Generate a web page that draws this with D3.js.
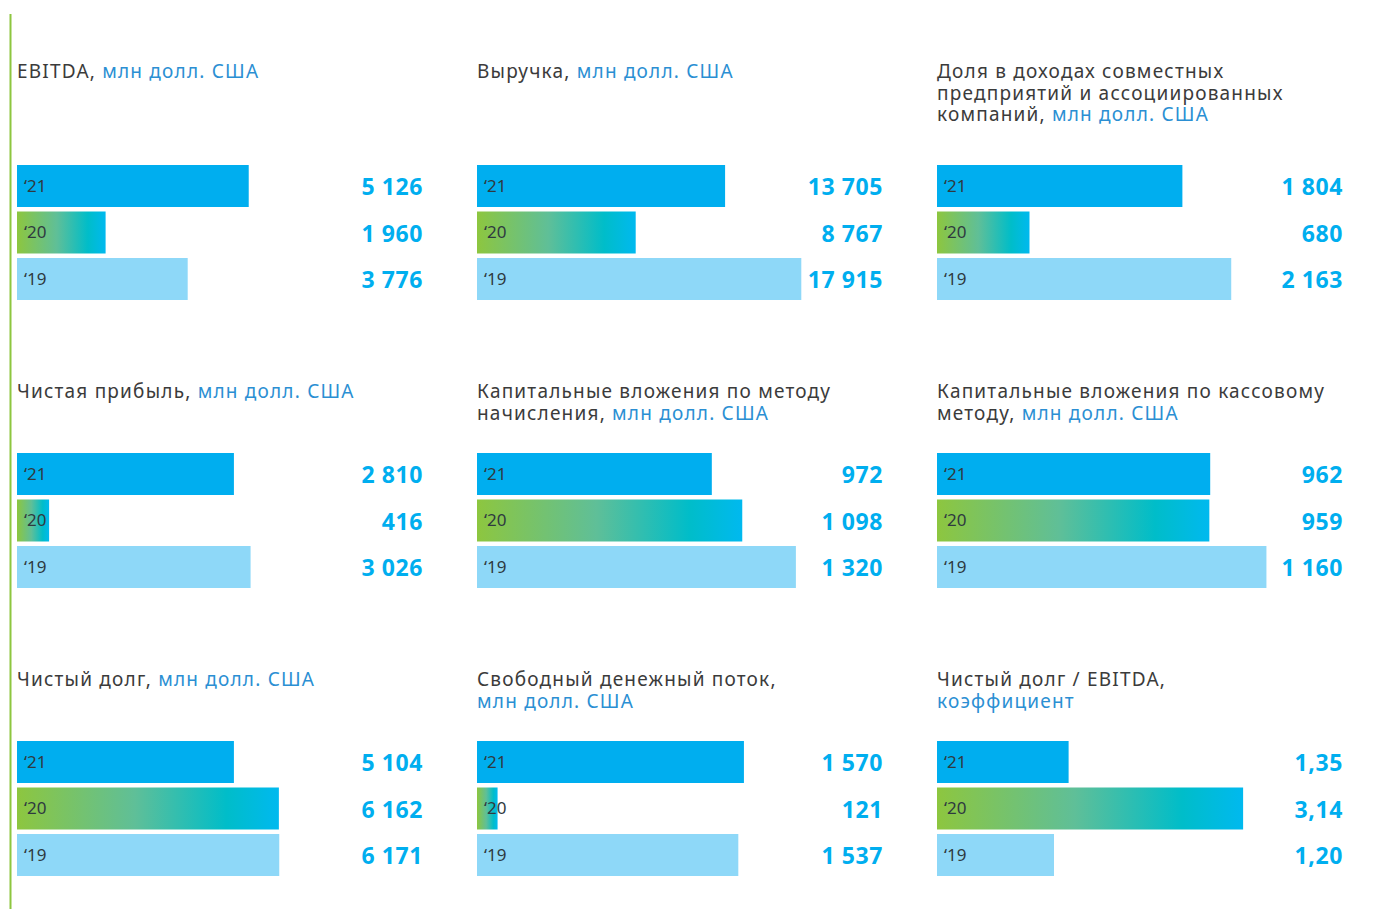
<!DOCTYPE html>
<html>
<head>
<meta charset="utf-8">
<script src="https://cdn.jsdelivr.net/npm/d3@7"></script>
<style>
  body { margin: 0; background: #fff; }
  #chart { width: 1376px; height: 909px; }
  .title { font-family: "Noto Sans", sans-serif; font-size: 19px; fill: #3b3b3b; letter-spacing: 1.2px; }
  .unit { fill: #2b8fd3; }
  .year { font-family: "Noto Sans", sans-serif; font-size: 17px; fill: #2f3a40; }
  .value { font-family: "Noto Sans", sans-serif; font-size: 23px; font-weight: 700; fill: #00aeef; letter-spacing: 0.6px; }
</style>
</head>
<body>
<div id="chart"></div>
<script>
// data
const years = ["21", "20", "19"];

const titles = [
    ["EBITDA, "],
    ["Выручка, "],
    ["Доля в доходах совместных", "предприятий и ассоциированных", "компаний, "],
    ["Чистая прибыль, "],
    ["Капитальные вложения по методу", "начисления, "],
    ["Капитальные вложения по кассовому", "методу, "],
    ["Чистый долг, "],
    ["Свободный денежный поток,", ""],
    ["Чистый долг / EBITDA,", ""]
];
const units = ["млн долл. США", "млн долл. США", "млн долл. США", "млн долл. США",
    "млн долл. США", "млн долл. США", "млн долл. США", "млн долл. США", "коэффициент"];

const ebitda = [5126, 1960, 3776];
const revenue = [13705, 8767, 17915];
const jvShare = [1804, 680, 2163];
const netProfit = [2810, 416, 3026];
const capexAccrual = [972, 1098, 1320];
const capexCash = [962, 959, 1160];
const netDebt = [5104, 6162, 6171];
const freeCashFlow = [1570, 121, 1537];
const debtRatio = [1.35, 3.14, 1.20];

// upper end of each panel's bar scale
const scaleMax = [7300, 18230, 2426, 4275, 1366, 1162, 7765, 1941, 3.385];

const series = [ebitda, revenue, jvShare, netProfit, capexAccrual, capexCash, netDebt, freeCashFlow, debtRatio];

/* SVG */
const width = 1376, height = 909;
const svg = d3.select("#chart").append("svg")
    .attr("width", width)
    .attr("height", height);

const ru = d3.formatLocale({decimal: ",", thousands: " ", grouping: [3], currency: ["", ""]});
const fmtInt = ru.format(",d");
const fmtRatio = ru.format(",.2f");

/* GRADIENT FOR '20 */
const defs = svg.append("defs");
const grad = defs.append("linearGradient").attr("id", "g20");
grad.append("stop").attr("offset", "0%").attr("stop-color", "#8dc63f");
grad.append("stop").attr("offset", "45%").attr("stop-color", "#5fbf98");
grad.append("stop").attr("offset", "80%").attr("stop-color", "#00bdc9");
grad.append("stop").attr("offset", "100%").attr("stop-color", "#00b9ef");

const fills = {"21": "#00aeef", "20": "url(#g20)", "19": "#8ed8f8"};

/* LEFT ACCENT LINE */
svg.append("line")
    .attr("x1", 10.5).attr("x2", 10.5)
    .attr("y1", 14).attr("y2", height)
    .attr("stroke", "#8dc63f")
    .attr("stroke-width", 2);

/* PANEL GRID */
const colX = d3.scalePoint().domain([0, 1, 2]).range([17, 937]);
const rowY = d3.scalePoint().domain([0, 1, 2]).range([0, 576]);
const titleTop = [78, 110, 110];   // first title baseline inside each row

const yBand = d3.scaleBand()
    .domain(years)
    .range([0, 135])
    .paddingInner(0.0968);

series.forEach(function(vals, i) {
    const row = Math.floor(i / 3);
    const g = svg.append("g")
        .attr("transform", `translate(${colX(i % 3)},${rowY(row)})`);

    const x = d3.scaleLinear().domain([0, scaleMax[i]]).range([0, 330]);

    // title
    const lines = titles[i];
    const t = g.append("text").attr("class", "title");
    lines.forEach(function(line, k) {
        if (line === "") return;
        t.append("tspan")
            .attr("x", 0)
            .attr("y", titleTop[row] + k * 21.5)
            .text(line);
    });
    const u = t.append("tspan")
        .attr("class", "unit")
        .text(units[i]);
    if (lines[lines.length - 1] === "") {
        u.attr("x", 0).attr("y", titleTop[row] + (lines.length - 1) * 21.5);
    }

    const bars = g.append("g").attr("transform", "translate(0,165)");

    bars.selectAll("rect")
        .data(vals)
        .enter()
        .append("rect")
        .attr("x", 0)
        .attr("y", function(d, k) { return yBand(years[k]); })
        .attr("width", function(d) { return x(d); })
        .attr("height", yBand.bandwidth())
        .attr("fill", function(d, k) { return fills[years[k]]; });

    bars.selectAll(".year")
        .data(years)
        .enter()
        .append("text")
        .attr("class", "year")
        .attr("x", 7)
        .attr("y", function(d) { return yBand(d) + yBand.bandwidth() / 2; })
        .attr("dy", "0.35em")
        .text(function(d) { return "\u2018" + d; });

    bars.selectAll(".value")
        .data(vals)
        .enter()
        .append("text")
        .attr("class", "value")
        .attr("x", 406)
        .attr("y", function(d, k) { return yBand(years[k]) + yBand.bandwidth() / 2 + 1; })
        .attr("dy", "0.35em")
        .attr("text-anchor", "end")
        .text(function(d) { return i === 8 ? fmtRatio(d) : fmtInt(d); });
});
</script>
</body>
</html>
